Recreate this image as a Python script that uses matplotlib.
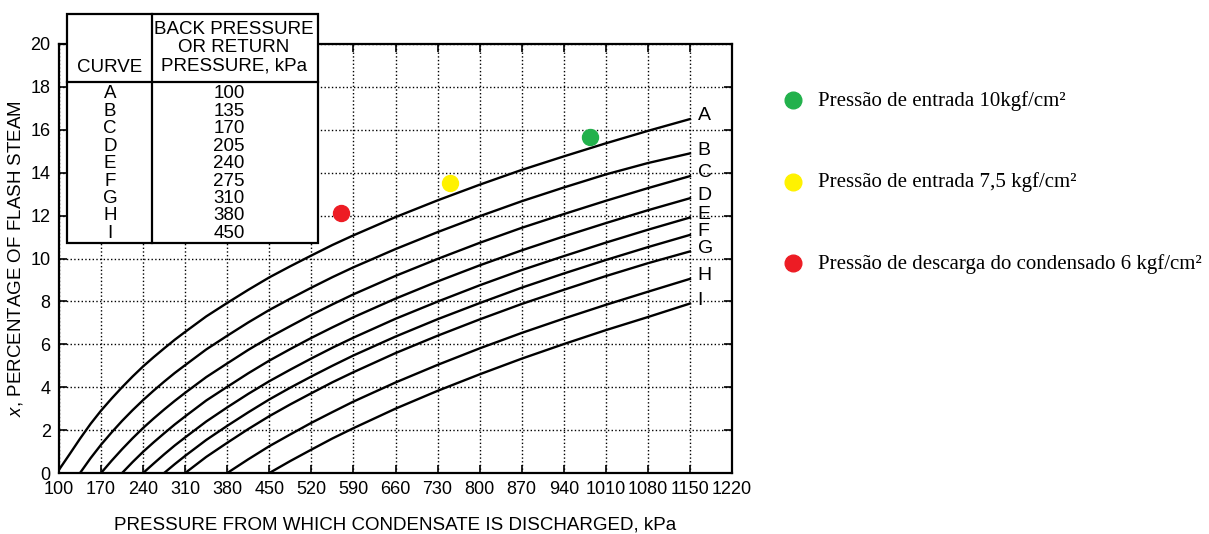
import matplotlib.pyplot as plt
import numpy as np
from matplotlib.patches import Rectangle
from matplotlib.lines import Line2D

plt.rcParams['font.family'] = ['Liberation Sans', 'DejaVu Sans']
plt.rcParams['mathtext.fontset'] = 'custom'
plt.rcParams['mathtext.it'] = 'Liberation Sans:italic'
plt.rcParams['mathtext.rm'] = 'Liberation Sans'

# pressure points (kPa) where the curves were read
pressure = [100, 117.5, 135, 152.5, 170, 187.5, 205, 222.5, 240, 257.5, 275,
            292.5, 310, 345, 380, 415, 450, 485, 520, 555, 590, 660, 730, 800,
            870, 940, 1010, 1080, 1150]

# flash steam % for each curve (None = curve not started yet)
curve_A = [0.15, 0.87, 1.6, 2.29, 2.91, 3.47, 4.0, 4.5, 4.97, 5.4, 5.81, 6.21,
           6.58, 7.3, 7.93, 8.54, 9.12, 9.64, 10.14, 10.63, 11.08, 11.93,
           12.71, 13.44, 14.13, 14.76, 15.37, 15.95, 16.5]
curve_B = [None, None, 0.0, 0.69, 1.32, 1.89, 2.43, 2.93, 3.4, 3.84, 4.26,
           4.66, 5.03, 5.76, 6.4, 7.02, 7.6, 8.13, 8.64, 9.13, 9.59, 10.44,
           11.23, 11.97, 12.67, 13.31, 13.92, 14.45, 14.9]
curve_C = [None, None, None, None, 0.0, 0.57, 1.11, 1.62, 2.1, 2.54, 2.96,
           3.36, 3.74, 4.47, 5.11, 5.74, 6.32, 6.85, 7.37, 7.86, 8.33, 9.19,
           9.98, 10.73, 11.43, 12.07, 12.69, 13.28, 13.84]
curve_D = [None, None, None, None, None, None, 0.0, 0.51, 0.99, 1.43, 1.85,
           2.26, 2.64, 3.38, 4.02, 4.65, 5.24, 5.78, 6.3, 6.79, 7.26, 8.13,
           8.93, 9.68, 10.38, 11.03, 11.65, 12.25, 12.81]
curve_E = [None, None, None, None, None, None, None, None, 0.0, 0.44, 0.87,
           1.28, 1.66, 2.4, 3.06, 3.69, 4.28, 4.82, 5.34, 5.84, 6.31, 7.19,
           7.99, 8.75, 9.46, 10.11, 10.74, 11.34, 11.91]
curve_F = [None, None, None, None, None, None, None, None, None, None, 0.0,
           0.41, 0.8, 1.54, 2.2, 2.83, 3.43, 3.98, 4.5, 5.0, 5.48, 6.36,
           7.17, 7.92, 8.64, 9.3, 9.93, 10.53, 11.1]
curve_G = [None, None, None, None, None, None, None, None, None, None, None,
           None, 0.0, 0.75, 1.41, 2.05, 2.65, 3.2, 3.72, 4.23, 4.7, 5.59,
           6.4, 7.16, 7.88, 8.54, 9.18, 9.78, 10.33]
curve_H = [None, None, None, None, None, None, None, None, None, None, None,
           None, None, None, 0.0, 0.64, 1.25, 1.8, 2.34, 2.84, 3.33, 4.22,
           5.04, 5.81, 6.53, 7.2, 7.84, 8.45, 9.05]
curve_I = [None, None, None, None, None, None, None, None, None, None, None,
           None, None, None, None, None, 0.0, 0.56, 1.09, 1.61, 2.09, 3.0,
           3.83, 4.6, 5.33, 6.01, 6.66, 7.27, 7.9]

curve_names = ['A', 'B', 'C', 'D', 'E', 'F', 'G', 'H', 'I']
back_pressures = [100, 135, 170, 205, 240, 275, 310, 380, 450]
curves = [curve_A, curve_B, curve_C, curve_D, curve_E, curve_F, curve_G,
          curve_H, curve_I]

# marked operating points
point_labels = ['Pressão de entrada 10kgf/cm²', 'Pressão de entrada 7,5 kgf/cm²',
                'Pressão de descarga do condensado 6 kgf/cm²']
point_x = [983, 750, 570]
point_y = [15.65, 13.5, 12.1]
point_colors = ['#22b14c', '#fff200', '#ed1c24']

W, H = 1209, 534


def fx(px):
    return px / W


def fy(py):
    return 1 - py / H


fig = plt.figure(figsize=(W / 100, H / 100), dpi=100)
ax = fig.add_axes([fx(59), fy(473), (732 - 59) / W, (473 - 44) / H])

for name, vals in zip(curve_names, curves):
    v = np.array([np.nan if a is None else a for a in vals], dtype=float)
    ax.plot(pressure, v, color='black', lw=1.7, zorder=3)
    ax.text(1163, v[-1] + 0.15, name, fontsize=14, va='center', ha='left')

for x, y, c in zip(point_x, point_y, point_colors):
    ax.plot(x, y, 'o', color=c, ms=11.5, zorder=4)

ax.set_xlim(100, 1220)
ax.set_ylim(0, 20)
ax.set_xticks(np.arange(100, 1221, 70))
ax.set_yticks(np.arange(0, 21, 2))
ax.tick_params(direction='in', length=6, width=1.2, labelsize=13,
               top=True, right=True)
ax.tick_params(axis='x', pad=6)
ax.tick_params(axis='y', pad=6)
ax.grid(True, linestyle=':', color='black', lw=1.0)
for s in ax.spines.values():
    s.set_linewidth(1.6)
ax.set_xlabel('PRESSURE FROM WHICH CONDENSATE IS DISCHARGED, kPa',
              fontsize=13.5, labelpad=13)
ax.set_ylabel('$x$, PERCENTAGE OF FLASH STEAM', fontsize=13.5, labelpad=4)

# table in upper left
fig.add_artist(Rectangle((fx(67), fy(243)), fx(318) - fx(67), fy(14) - fy(243),
                         transform=fig.transFigure, facecolor='white',
                         edgecolor='black', lw=1.6, zorder=5))
fig.add_artist(Line2D([fx(152), fx(152)], [fy(14), fy(243)], color='black',
                      lw=1.6, zorder=6))
fig.add_artist(Line2D([fx(67), fx(318)], [fy(82), fy(82)], color='black',
                      lw=1.6, zorder=6))
fig.text(fx(110), fy(67), 'CURVE', fontsize=13.5, ha='center', va='center', zorder=7)
for i, line in enumerate(['BACK PRESSURE', 'OR RETURN', 'PRESSURE, kPa']):
    fig.text(fx(234), fy(29 + i * 18.5), line, fontsize=13.5, ha='center',
             va='center', zorder=7)
for i, (n, bp) in enumerate(zip(curve_names, back_pressures)):
    y = fy(94 + i * 17.4)
    fig.text(fx(110), y, n, fontsize=13.5, ha='center', va='center', zorder=7)
    fig.text(fx(229), y, str(bp), fontsize=13.5, ha='center', va='center', zorder=7)

# legend for the marked points
for i, (lab, c) in enumerate(zip(point_labels, point_colors)):
    y = 100 + i * 81.5
    fig.add_artist(Line2D([fx(793)], [fy(y)], marker='o', color=c, ms=12,
                          transform=fig.transFigure))
    fig.text(fx(818), fy(y + 1), lab, fontsize=15, family='Liberation Serif',
             va='center', ha='left')

fig.savefig('out.png', dpi=100)
